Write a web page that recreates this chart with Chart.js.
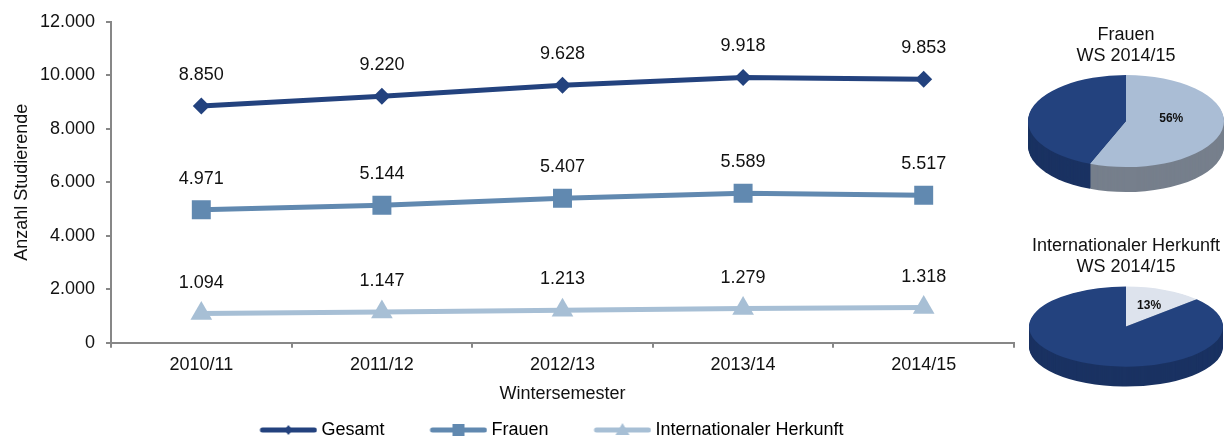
<!DOCTYPE html>
<html>
<head>
<meta charset="utf-8">
<script src="https://cdn.jsdelivr.net/npm/chart.js@4/dist/chart.umd.min.js"></script>
<style>
  html, body { margin: 0; padding: 0; background: #fff; overflow: hidden; }
  #wrap { position: relative; width: 1230px; height: 437px; overflow: hidden; }
  canvas { position: absolute; }
  #lineChart { left: 0; top: 0; }
  #pieFrauen { left: 1016px; top: 0; }
  #pieInt { left: 1016px; top: 220px; }
</style>
</head>
<body>
<div id="wrap">
  <canvas id="lineChart" width="1072" height="449"></canvas>
  <canvas id="pieFrauen" width="214" height="220"></canvas>
  <canvas id="pieInt" width="214" height="217"></canvas>
</div>
<script>
// Daten
const semesters = ["2010/11", "2011/12", "2012/13", "2013/14", "2014/15"];
const gesamt = [8850, 9220, 9628, 9918, 9853];
const frauen = [4971, 5144, 5407, 5589, 5517];
const international = [1094, 1147, 1213, 1279, 1318];
const yTicks = [0, 2000, 4000, 6000, 8000, 10000, 12000];

const frauenShare = [56, 44];
const intShare = [13, 87];

const FONT = "'Liberation Sans', Arial, sans-serif";
const C_GESAMT = "#23427e";
const C_FRAUEN = "#6189b0";
const C_INT = "#a7bfd5";
const AXIS = "#878787";

function fmt(v) {
  return String(v).replace(/\B(?=(\d{3})+(?!\d))/g, ".");
}

// Legendensymbol: Linie mit Marker
function legendIcon(color, style) {
  const c = document.createElement("canvas");
  c.width = 100;
  c.height = 20;
  const g = c.getContext("2d");
  g.strokeStyle = color;
  g.fillStyle = color;
  g.lineWidth = 5;
  g.lineCap = "round";
  g.beginPath();
  g.moveTo(45, 10);
  g.lineTo(97, 10);
  g.stroke();
  const mx = 71, my = 10;
  g.beginPath();
  if (style === "diamond") {
    g.moveTo(mx, my - 5); g.lineTo(mx + 4, my); g.lineTo(mx, my + 5); g.lineTo(mx - 4, my);
  } else if (style === "square") {
    g.rect(mx - 6, my - 6, 12, 12);
  } else {
    g.moveTo(mx, my - 7); g.lineTo(mx + 7, my + 5); g.lineTo(mx - 7, my + 5);
  }
  g.closePath();
  g.fill();
  return c;
}

const icons = [
  legendIcon(C_GESAMT, "diamond"),
  legendIcon(C_FRAUEN, "square"),
  legendIcon(C_INT, "triangle")
];

const valueLabels = {
  id: "valueLabels",
  afterDatasetsDraw(chart) {
    const ctx = chart.ctx;
    ctx.save();
    ctx.font = "18px " + FONT;
    ctx.fillStyle = "#111";
    ctx.textAlign = "center";
    ctx.textBaseline = "middle";
    chart.data.datasets.forEach((ds, i) => {
      chart.getDatasetMeta(i).data.forEach((pt, j) => {
        ctx.fillText(fmt(ds.data[j]), pt.x, pt.y - 31);
      });
    });
    ctx.restore();
  }
};

// Legende etwas nach rechts rücken (wie im Original)
const legendShift = {
  id: "legendShift",
  afterLayout(chart) {
    if (chart.legend) chart.legend.left += 52;
  }
};

new Chart(document.getElementById("lineChart"), {
  type: "line",
  data: {
    labels: semesters,
    datasets: [
      { label: "Gesamt", data: gesamt, borderColor: C_GESAMT, backgroundColor: C_GESAMT,
        borderWidth: 5, pointStyle: "rectRot", pointRadius: 8.5, pointBorderWidth: 0 },
      { label: "Frauen", data: frauen, borderColor: C_FRAUEN, backgroundColor: C_FRAUEN,
        borderWidth: 5, pointStyle: "rect", pointRadius: 13.4, pointBorderWidth: 0 },
      { label: "Internationaler Herkunft", data: international, borderColor: C_INT, backgroundColor: C_INT,
        borderWidth: 5, pointStyle: "triangle", pointRadius: 12.5, pointBorderWidth: 0 }
    ]
  },
  options: {
    responsive: false,
    animation: false,
    devicePixelRatio: 1,
    events: [],
    layout: { padding: { top: 21, right: 58, left: 0, bottom: 0 } },
    plugins: {
      tooltip: { enabled: false },
      legend: {
        position: "bottom",
        labels: {
          font: { size: 18, family: FONT },
          color: "#111",
          usePointStyle: true,
          pointStyleWidth: 90,
          padding: 8,
          generateLabels: chart => chart.data.datasets.map((ds, i) => ({
            text: ds.label,
            pointStyle: icons[i],
            fillStyle: ds.borderColor,
            strokeStyle: ds.borderColor,
            lineWidth: 0,
            datasetIndex: i
          }))
        }
      }
    },
    scales: {
      x: {
        offset: true,
        grid: { offset: true, drawOnChartArea: false, tickLength: 5, color: AXIS, lineWidth: 2 },
        border: { color: AXIS, width: 2 },
        ticks: { font: { size: 18, family: FONT }, color: "#111", padding: 6 },
        title: { display: true, text: "Wintersemester", font: { size: 18, family: FONT }, color: "#111", padding: { top: 2, bottom: 8 } }
      },
      y: {
        min: 0,
        max: 12000,
        afterBuildTicks: s => { s.ticks = yTicks.map(v => ({ value: v })); },
        afterFit: s => { s.width = 111; },
        grid: { drawOnChartArea: false, tickLength: 5, color: AXIS, lineWidth: 2 },
        border: { color: AXIS, width: 2 },
        ticks: { font: { size: 18, family: FONT }, color: "#111", padding: 11, callback: v => fmt(v) },
        title: { display: true, text: "Anzahl Studierende", font: { size: 18, family: FONT }, color: "#111", padding: { top: 11, bottom: 0 } }
      }
    }
  },
  plugins: [valueLabels, legendShift]
});

// 3D-Kreisdiagramm
const pie3d = {
  id: "pie3d",
  beforeDatasetsDraw(chart, args, opts) {
    const arcs = chart.getDatasetMeta(0).data;
    const { x, y, outerRadius } = arcs[0];
    const ctx = chart.ctx;
    const sx = opts.rx / outerRadius, sy = opts.ry / outerRadius;
    ctx.save();
    ctx.translate(x, y);
    ctx.scale(sx, sy);
    ctx.translate(-x, -y);
    for (let d = opts.depth; d > 0; d--) {
      arcs.forEach((a, i) => {
        ctx.beginPath();
        ctx.moveTo(x, y + d / sy);
        ctx.arc(x, y + d / sy, outerRadius, a.startAngle, a.endAngle);
        ctx.closePath();
        ctx.fillStyle = opts.side[i];
        ctx.fill();
      });
    }
  },
  afterDatasetsDraw(chart, args, opts) {
    const ctx = chart.ctx;
    ctx.restore();
    const arcs = chart.getDatasetMeta(0).data;
    const a = arcs[0];
    const mid = (a.startAngle + a.endAngle) / 2;
    const px = a.x + Math.cos(mid) * opts.rx * opts.labelPos;
    const py = a.y + Math.sin(mid) * opts.ry * opts.labelPos + opts.labelDy;
    ctx.save();
    ctx.font = "bold 12px " + FONT;
    ctx.fillStyle = "#111";
    ctx.textAlign = "center";
    ctx.textBaseline = "middle";
    ctx.fillText(chart.data.datasets[0].data[0] + "%", px, py);
    ctx.restore();
  }
};

function makePie(id, title, shares, colors, side, geo) {
  new Chart(document.getElementById(id), {
    type: "pie",
    data: {
      labels: ["a", "b"],
      datasets: [{ data: shares, backgroundColor: colors, borderWidth: 0, clip: false }]
    },
    options: {
      responsive: false,
      animation: false,
      devicePixelRatio: 1,
      events: [],
      layout: { padding: { top: 0, left: 6, right: 0, bottom: geo.bottom } },
      plugins: {
        legend: { display: false },
        tooltip: { enabled: false },
        title: {
          display: true,
          text: title,
          font: { size: 18, family: FONT, weight: "normal" },
          color: "#111",
          padding: { top: geo.top, bottom: 5 }
        },
        pie3d: { rx: geo.rx, ry: geo.ry, depth: geo.depth, side: side, labelPos: geo.labelPos, labelDy: geo.labelDy }
      }
    },
    plugins: [pie3d]
  });
}

makePie("pieFrauen", ["Frauen", "WS 2014/15"], frauenShare,
  ["#aabdd5", "#23427e"], ["#767f8c", "#1a3262"],
  { top: 24, bottom: 50, rx: 98, ry: 46, depth: 25, labelPos: 0.47, labelDy: -6 });

makePie("pieInt", ["Internationaler Herkunft", "WS 2014/15"], intShare,
  ["#dde3ed", "#23427e"], ["#9aa6b8", "#1a3262"],
  { top: 15, bottom: 67, rx: 97, ry: 40, depth: 20, labelPos: 0.6, labelDy: 1 });
</script>
</body>
</html>
